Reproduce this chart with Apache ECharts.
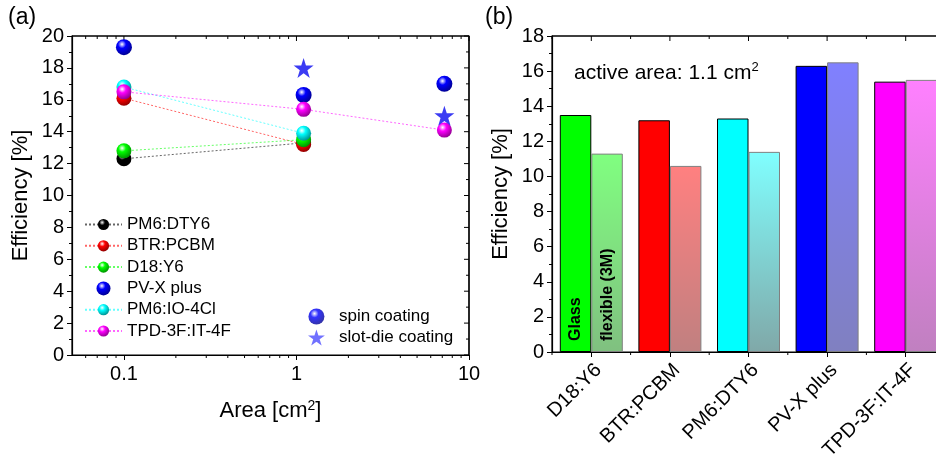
<!DOCTYPE html>
<html>
<head>
<meta charset="utf-8">
<script src="https://cdn.jsdelivr.net/npm/echarts@6/dist/echarts.min.js"></script>
<style>
    html, body { margin: 0; padding: 0; background: #fff; }
    #main { width: 936px; height: 457px; }
</style>
</head>
<body>
<div id="main"></div>
<script>
// (a) efficiency vs area
var blendNames = ['PM6:DTY6', 'BTR:PCBM', 'D18:Y6', 'PV-X plus', 'PM6:IO-4Cl', 'TPD-3F:IT-4F'];
var blendColors = ['#000000', '#ff0000', '#00ff00', '#0000ff', '#00ffff', '#ff00ff'];
var pm6dty6 = [[0.1, 12.3], [1.1, 13.3]];
var btrPcbm = [[0.1, 16.1], [1.1, 13.2]];
var d18y6 = [[0.1, 12.8], [1.1, 13.5]];
var pvxSpin = [[0.1, 19.3], [1.1, 16.3], [7.2, 17.0]];
var pm6io4cl = [[0.1, 16.8], [1.1, 13.9]];
var tpdIt4f = [[0.1, 16.5], [1.1, 15.4], [7.2, 14.1]];
var pvxSlotDie = [[1.1, 18.0], [7.2, 15.0]];
var logMajorTicks = [0.1, 1, 10];
var logMinorTicks = [0.06, 0.07, 0.08, 0.09, 0.2, 0.3, 0.4, 0.5, 0.6, 0.7, 0.8, 0.9, 2, 3, 4, 5, 6, 7, 8, 9];
var rightTicks = [0, 1, 2, 3, 4, 5, 6, 7, 8, 9, 10, 11, 12, 13, 14, 15, 16, 17, 18, 19, 20];

// (b) glass vs flexible at 1.1 cm2
var barCategories = ['D18:Y6', 'BTR:PCBM', 'PM6:DTY6', 'PV-X plus', 'TPD-3F:IT-4F'];
var glassValues = [13.5, 13.2, 13.3, 16.3, 15.4];
var flexValues = [11.3, 10.6, 11.4, 16.5, 15.5];
var glassColors = ['#00ff00', '#ff0000', '#00ffff', '#0000ff', '#ff00ff'];
var flexTopColors = ['#80ff80', '#ff8080', '#80ffff', '#8080ff', '#ff80ff'];
var flexBottomColors = ['#80c080', '#c08080', '#80a8a8', '#8080c0', '#c080c0'];

var FONT = 'Liberation Sans, Arial, sans-serif';

function darker(hex) {
    var n = parseInt(hex.slice(1), 16);
    var r = Math.round(((n >> 16) & 255) * 0.55);
    var g = Math.round(((n >> 8) & 255) * 0.55);
    var b = Math.round((n & 255) * 0.55);
    return 'rgb(' + r + ',' + g + ',' + b + ')';
}

// shaded ball look
function sphere(c) {
    return {
        type: 'radial', x: 0.38, y: 0.32, r: 0.72,
        colorStops: [
            { offset: 0, color: '#ffffff' },
            { offset: 0.35, color: c },
            { offset: 1, color: darker(c) }
        ]
    };
}

function tickLine(x1, y1, x2, y2, w) {
    return { type: 'line', shape: { x1: x1, y1: y1, x2: x2, y2: y2 }, style: { stroke: '#000', lineWidth: w || 1 } };
}

var myChart = echarts.init(document.getElementById('main'));

function lineOf() {
    return { show: true, onZero: false, lineStyle: { color: '#000', width: 1.2 } };
}
function tickOf(inside, len, align) {
    return { show: true, inside: inside, length: len, alignWithLabel: !!align, lineStyle: { color: '#000', width: 1 } };
}
function minorOf() {
    return { show: true, splitNumber: 2, length: 3, lineStyle: { color: '#000', width: 1 } };
}
function labelOf(extra) {
    return Object.assign({ color: '#000', fontSize: 20, fontFamily: FONT }, extra || {});
}
var STAR = 'path://M12,0 L14.8,8.5 L23.8,8.5 L16.5,13.8 L19.3,22.4 L12,17.1 L4.7,22.4 L7.5,13.8 L0.2,8.5 L9.2,8.5 Z';

var blendData = [pm6dty6, btrPcbm, d18y6, pvxSpin, pm6io4cl, tpdIt4f];
var series = [];
blendData.forEach(function (d, i) {
    var isScatter = blendNames[i] === 'PV-X plus';
    series.push({
        name: blendNames[i],
        type: isScatter ? 'scatter' : 'line',
        xAxisIndex: 0, yAxisIndex: 0,
        data: d,
        symbol: 'circle',
        symbolSize: isScatter ? 16 : 15,
        showSymbol: true,
        itemStyle: { color: sphere(blendColors[i]), opacity: 1 },
        lineStyle: { color: blendColors[i], width: 1, type: [2, 2], opacity: 0.6 },
        z: 3 + i
    });
});
series.push({
    name: 'spin coating',
    type: 'scatter',
    xAxisIndex: 0, yAxisIndex: 0,
    data: [],
    symbol: 'circle',
    itemStyle: { color: sphere('#0000ff') }
});
series.push({
    name: 'slot-die coating',
    type: 'scatter',
    xAxisIndex: 0, yAxisIndex: 0,
    data: pvxSlotDie,
    symbol: STAR,
    symbolSize: 20,
    itemStyle: { color: '#0a0af0' },
    z: 10
});
// log minor ticks: bottom outward, top inward
series.push({
    type: 'custom',
    xAxisIndex: 0, yAxisIndex: 0,
    data: logMinorTicks,
    silent: true,
    clip: false,
    renderItem: function (params, api) {
        var v = api.value(0);
        var b = api.coord([v, 0]);
        var t = api.coord([v, 20]);
        return { type: 'group', children: [tickLine(b[0], b[1], b[0], b[1] + 3), tickLine(t[0], t[1], t[0], t[1] + 3)] };
    }
});
// log major ticks on the top edge, plus the top / right frame of (a)
series.push({
    type: 'custom',
    xAxisIndex: 0, yAxisIndex: 0,
    data: logMajorTicks,
    silent: true,
    clip: false,
    renderItem: function (params, api) {
        var t = api.coord([api.value(0), 20]);
        var kids = [tickLine(t[0], t[1], t[0], t[1] + 5)];
        if (params.dataIndex === 0) {
            var tl = api.coord([0.05, 20]);
            var tr = api.coord([10, 20]);
            var br = api.coord([10, 0]);
            kids.push(tickLine(tl[0], tl[1], tr[0], tr[1], 1.2));
            kids.push(tickLine(tr[0], tr[1], br[0], br[1], 1.2));
        }
        return { type: 'group', children: kids };
    }
});
// mirror ticks on the right edge of (a)
series.push({
    type: 'custom',
    xAxisIndex: 0, yAxisIndex: 0,
    data: rightTicks.map(function (v) { return [10, v]; }),
    silent: true,
    clip: false,
    renderItem: function (params, api) {
        var v = api.value(1);
        var p = api.coord([10, v]);
        var len = v % 2 === 0 ? 5 : 3;
        return tickLine(p[0], p[1], p[0] - len, p[1]);
    }
});

series.push({
    name: 'Glass',
    type: 'bar',
    xAxisIndex: 1, yAxisIndex: 1,
    barWidth: 31.5,
    barGap: '0%',
    data: glassValues.map(function (v, i) {
        return { value: v, itemStyle: { color: glassColors[i] } };
    }),
    itemStyle: { borderColor: '#000', borderWidth: 1 }
});
series.push({
    name: 'flexible (3M)',
    type: 'bar',
    xAxisIndex: 1, yAxisIndex: 1,
    barWidth: 31.5,
    barGap: '0%',
    data: flexValues.map(function (v, i) {
        return {
            value: v,
            itemStyle: {
                color: new echarts.graphic.LinearGradient(0, 0, 0, 1, [
                    { offset: 0, color: flexTopColors[i] },
                    { offset: 1, color: flexBottomColors[i] }
                ])
            }
        };
    }),
    itemStyle: { borderColor: '#808080', borderWidth: 1 }
});
// (b) ticks: top centre ticks, boundary minor ticks top and bottom, top frame
series.push({
    type: 'custom',
    xAxisIndex: 1, yAxisIndex: 1,
    data: barCategories.map(function (c, i) { return [i, 0]; }),
    silent: true,
    clip: false,
    renderItem: function (params, api) {
        var i = api.value(0);
        var t = api.coord([i, 18]);
        var b = api.coord([i, 0]);
        var half = api.size([1, 0])[0] / 2;
        var xl = t[0] - half;
        var kids = [
            tickLine(t[0], t[1], t[0], t[1] + 5),
            tickLine(xl, t[1], xl, t[1] + 3),
            tickLine(xl, b[1], xl, b[1] + 3)
        ];
        kids.push(tickLine(xl, t[1], t[0] + half, t[1], 1.2));
        return { type: 'group', children: kids };
    }
});

var option = {
    animation: false,
    backgroundColor: '#fff',
    textStyle: { fontFamily: FONT },
    grid: [
        { left: 72, top: 36, width: 397, height: 319, outerBoundsMode: 'none', show: true, borderColor: '#000', borderWidth: 1.2, backgroundColor: 'transparent' },
        { left: 552, top: 36, right: -9, height: 316, outerBoundsMode: 'none', show: true, borderColor: '#000', borderWidth: 1.2, backgroundColor: 'transparent' }
    ],
    legend: [
        {
            orient: 'vertical',
            left: 79, top: 211,
            itemWidth: 37, itemHeight: 14, itemGap: 4.3,
            textStyle: { color: '#000', fontSize: 17, fontFamily: FONT },
            data: blendNames,
            selectedMode: false
        },
        {
            orient: 'vertical',
            left: 303, top: 303,
            itemWidth: 17, itemHeight: 16, itemGap: 4,
            textStyle: { color: '#000', fontSize: 17, fontFamily: FONT, padding: [0, 0, 0, 9] },
            data: [
                { name: 'spin coating', itemStyle: { color: sphere('#0000ff') } },
                { name: 'slot-die coating', itemStyle: { color: '#4d4dff' } }
            ],
            selectedMode: false
        }
    ],
    xAxis: [
        {
            type: 'log', logBase: 10, min: 0.05, max: 10,
            gridIndex: 0, position: 'bottom',
            name: 'Area [cm{s|2}]', nameLocation: 'middle', nameGap: 44,
            nameTextStyle: {
                color: '#000', fontSize: 22, fontFamily: FONT,
                rich: { s: { fontSize: 14, verticalAlign: 'top', padding: [0, 0, 10, 0], color: '#000', fontFamily: FONT } }
            },
            axisLine: lineOf(),
            axisTick: tickOf(false, 5),
            axisLabel: labelOf({ showMinLabel: false, margin: 9 }),
            splitLine: { show: false }
        },
        {
            type: 'category', data: barCategories,
            gridIndex: 1, position: 'bottom',
            axisLine: lineOf(),
            axisTick: tickOf(false, 5, true),
            axisLabel: labelOf({ rotate: 45, margin: 8, interval: 0, verticalAlign: 'top' }),
            splitLine: { show: false }
        }
    ],
    yAxis: [
        {
            type: 'value', min: 0, max: 20, interval: 2,
            gridIndex: 0, position: 'left',
            name: 'Efficiency [%]', nameLocation: 'middle', nameGap: 40,
            nameTextStyle: { color: '#000', fontSize: 22, fontFamily: FONT },
            axisLine: lineOf(),
            axisTick: tickOf(false, 5),
            minorTick: minorOf(),
            axisLabel: labelOf({ margin: 8 }),
            splitLine: { show: false }
        },
        {
            type: 'value', min: 0, max: 18, interval: 2,
            gridIndex: 1, position: 'left',
            name: 'Efficiency [%]', nameLocation: 'middle', nameGap: 40,
            nameTextStyle: { color: '#000', fontSize: 22, fontFamily: FONT },
            axisLine: lineOf(),
            axisTick: tickOf(false, 5),
            minorTick: minorOf(),
            axisLabel: labelOf({ margin: 8 }),
            splitLine: { show: false }
        }
    ],
    graphic: [
        { type: 'text', left: 8, top: 6, style: { text: '(a)', fontSize: 23, fontFamily: FONT, fill: '#000' } },
        { type: 'text', left: 485, top: 6, style: { text: '(b)', fontSize: 23, fontFamily: FONT, fill: '#000' } },
        {
            type: 'text', left: 574, top: 61,
            style: {
                text: 'active area: 1.1 cm{s|2}', fontSize: 21, fontFamily: FONT, fill: '#000',
                rich: { s: { fontSize: 13, verticalAlign: 'top', padding: [0, 0, 11, 0], fill: '#000', fontFamily: FONT } }
            }
        },
        {
            type: 'text', x: 576, y: 341, rotation: Math.PI / 2, z: 100,
            style: { text: 'Glass', fontSize: 16, fontWeight: 'bold', fontFamily: FONT, fill: '#000', align: 'left', verticalAlign: 'middle' }
        },
        {
            type: 'text', x: 608, y: 341, rotation: Math.PI / 2, z: 100,
            style: { text: 'flexible (3M)', fontSize: 16, fontWeight: 'bold', fontFamily: FONT, fill: '#000', align: 'left', verticalAlign: 'middle' }
        }
    ],
    series: series
};

myChart.setOption(option);
</script>
</body>
</html>
